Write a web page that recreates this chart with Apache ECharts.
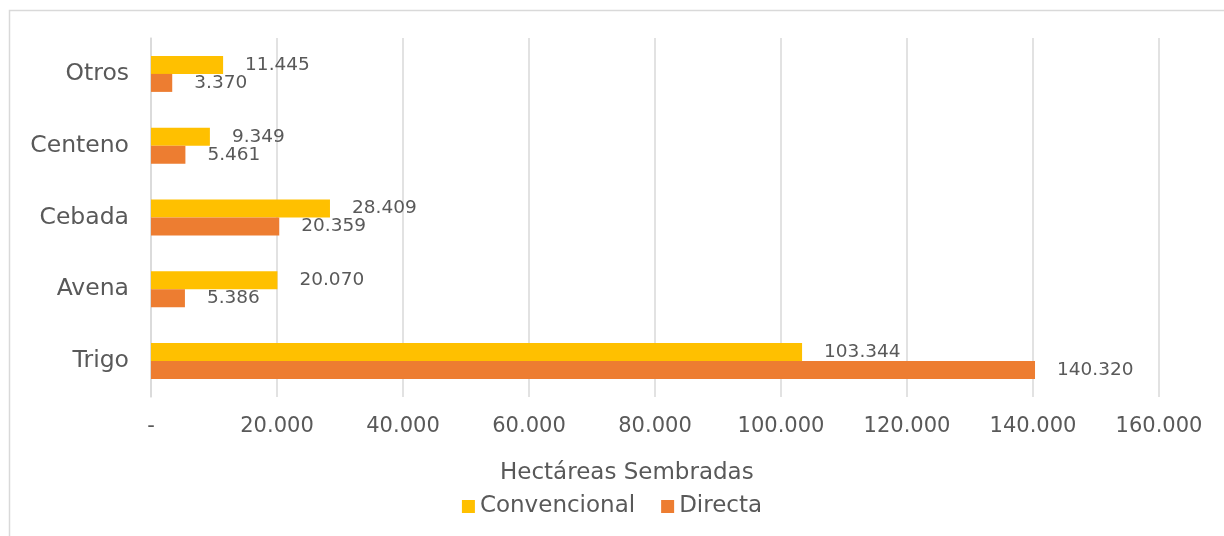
<!DOCTYPE html>
<html>
<head>
<meta charset="utf-8">
<script src="https://cdn.jsdelivr.net/npm/echarts@6/dist/echarts.min.js"></script>
<style>
html,body{margin:0;padding:0;background:#fff;}
#chart{width:1224px;height:536px;}
</style>
</head>
<body>
<div id="chart"></div>
<script>
const categories = ['Trigo', 'Avena', 'Cebada', 'Centeno', 'Otros'];
const convencional = [103344, 20070, 28409, 9349, 11445];
const directa = [140320, 5386, 20359, 5461, 3370];
const xTicks = [0, 20000, 40000, 60000, 80000, 100000, 120000, 140000, 160000];
const seriesNames = ['Convencional', 'Directa'];
const axisName = 'Hectáreas Sembradas';

const FONT = '"DejaVu Sans", sans-serif';
const TXT = '#595959';

function fmt(v) {
  if (v === 0) return '-';
  return String(Math.round(v)).replace(/\B(?=(\d{3})+(?!\d))/g, '.');
}

const chart = echarts.init(document.getElementById('chart'));
const labelCfg = {
  show: true,
  position: 'right',
  distance: 22,
  color: TXT,
  fontFamily: FONT,
  fontSize: 18.5,
  formatter: p => fmt(p.value)
};
chart.setOption({
  animation: false,
  backgroundColor: '#fff',
  grid: { left: 151, right: 65, top: 38, bottom: 139, containLabel: false },
  graphic: [{
    type: 'rect', left: 7, top: 8,
    shape: { width: 1300, height: 600 },
    style: { fill: 'none', stroke: '#d9d9d9', lineWidth: 1.5 },
    silent: true
  }, {
    type: 'text', left: 500, top: 462,
    style: { text: axisName, fill: TXT, font: '23px ' + FONT },
    silent: true
  }],
  legend: {
    data: seriesNames,
    top: 490,
    left: 'center',
    itemWidth: 13,
    itemHeight: 13,
    itemGap: 26,
    icon: 'rect',
    textStyle: { color: TXT, fontFamily: FONT, fontSize: 23 }
  },
  xAxis: {
    type: 'value',
    min: xTicks[0],
    max: xTicks[xTicks.length - 1],
    interval: xTicks[1] - xTicks[0],
    axisLine: { show: false },
    axisTick: { show: false },
    splitLine: { lineStyle: { color: '#d9d9d9', width: 1.5 } },
    axisLabel: { color: TXT, fontFamily: FONT, fontSize: 21, margin: 19, formatter: v => fmt(v) }
  },
  yAxis: {
    type: 'category',
    data: categories,
    axisLine: { show: true, lineStyle: { color: '#d9d9d9', width: 1.5 } },
    axisTick: { show: false },
    axisLabel: { color: TXT, fontFamily: FONT, fontSize: 23.5, margin: 22 }
  },
  series: [{
    name: seriesNames[0],
    type: 'bar',
    data: convencional,
    barWidth: 18,
    barGap: '0%',
    itemStyle: { color: '#FFC000' },
    label: labelCfg
  }, {
    name: seriesNames[1],
    type: 'bar',
    data: directa,
    barWidth: 18,
    barGap: '0%',
    itemStyle: { color: '#ED7D31' },
    label: labelCfg
  }]
});
</script>
</body>
</html>
